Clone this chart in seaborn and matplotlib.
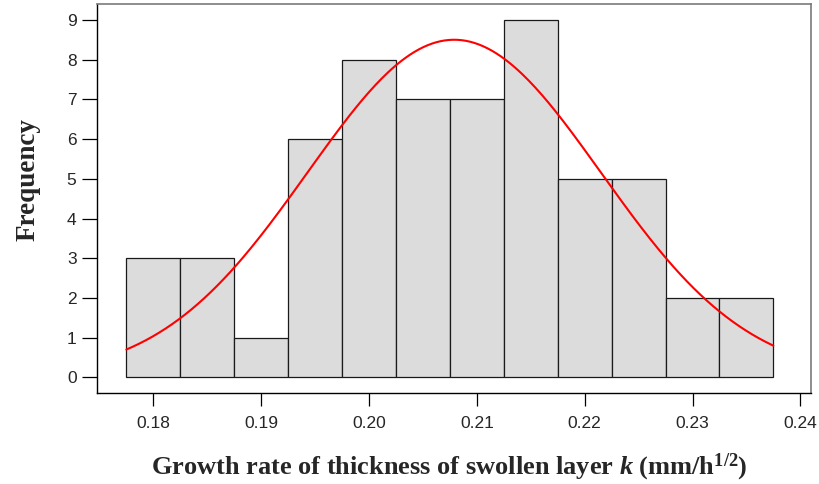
import numpy as np
import pandas as pd
import matplotlib
matplotlib.use("Agg")
import matplotlib.pyplot as plt
import seaborn as sns

# Histogram bins (left edges) and frequencies
bin_left = [0.1775, 0.1825, 0.1875, 0.1925, 0.1975, 0.2025,
            0.2075, 0.2125, 0.2175, 0.2225, 0.2275, 0.2325]
bin_width = 0.005
counts = [3, 3, 1, 6, 8, 7, 7, 9, 5, 5, 2, 2]

# Fitted normal distribution
fit_mean = 0.2079
fit_std = 0.01361

x_ticks = [0.18, 0.19, 0.20, 0.21, 0.22, 0.23, 0.24]
x_tick_labels = ["0.18", "0.19", "0.20", "0.21", "0.22", "0.23", "0.24"]
y_ticks = list(range(0, 10))

sns.set_theme(style="white")
plt.rcParams["font.family"] = ["Liberation Sans", "DejaVu Sans"]
plt.rcParams["mathtext.fontset"] = "custom"
plt.rcParams["mathtext.rm"] = "Liberation Serif:bold"
plt.rcParams["mathtext.bf"] = "Liberation Serif:bold"
plt.rcParams["mathtext.it"] = "Liberation Serif:italic:bold"
plt.rcParams["mathtext.bfit"] = "Liberation Serif:italic:bold"

fig = plt.figure(figsize=(8.2, 4.84), dpi=100)
ax = fig.add_axes([0.1187, 0.1874, 0.9887 - 0.1187, 0.9917 - 0.1874])

edges = bin_left + [bin_left[-1] + bin_width]
centers = [b + bin_width / 2 for b in bin_left]
df = pd.DataFrame({"k": centers, "n": counts})
sns.histplot(data=df, x="k", weights="n", bins=edges, ax=ax,
             color="#dcdcdc", alpha=1.0, edgecolor="#1a1a1a", linewidth=0.9)

n_total = sum(counts)
xs = np.linspace(edges[0], edges[-1], 300)
ys = n_total * bin_width / (fit_std * np.sqrt(2 * np.pi)) * np.exp(-0.5 * ((xs - fit_mean) / fit_std) ** 2)
sns.lineplot(x=xs, y=ys, ax=ax, color="#ff0000", linewidth=1.5)

ax.set_xlim(0.17481, 0.24096)
ax.set_ylim(-0.40, 9.40)
ax.set_xticks(x_ticks)
ax.set_xticklabels(x_tick_labels)
ax.set_yticks(y_ticks)

for side in ["top", "right"]:
    ax.spines[side].set_color("#7a7a7a")
    ax.spines[side].set_linewidth(1.2)
for side in ["left", "bottom"]:
    ax.spines[side].set_color("#000000")
    ax.spines[side].set_linewidth(1.0)

ax.tick_params(axis="y", direction="out", length=11, width=0.9, color="black",
               labelsize=12.5, pad=4, left=True)
ax.tick_params(axis="x", direction="out", length=9, width=0.9, color="black",
               labelsize=12.5, pad=7, bottom=True)

ax.set_xlabel(r"Growth rate of thickness of swollen layer $\mathit{k}$ (mm/h$^{1/2}$)",
              fontsize=19, fontweight="bold", family="Liberation Serif", labelpad=15)
ax.set_ylabel("Frequency", fontsize=19.5, fontweight="bold", family="Liberation Serif",
              labelpad=19)
ax.xaxis.label.set_x(0.493)
ax.yaxis.label.set_y(0.548)

fig.savefig("out.png", dpi=100)
